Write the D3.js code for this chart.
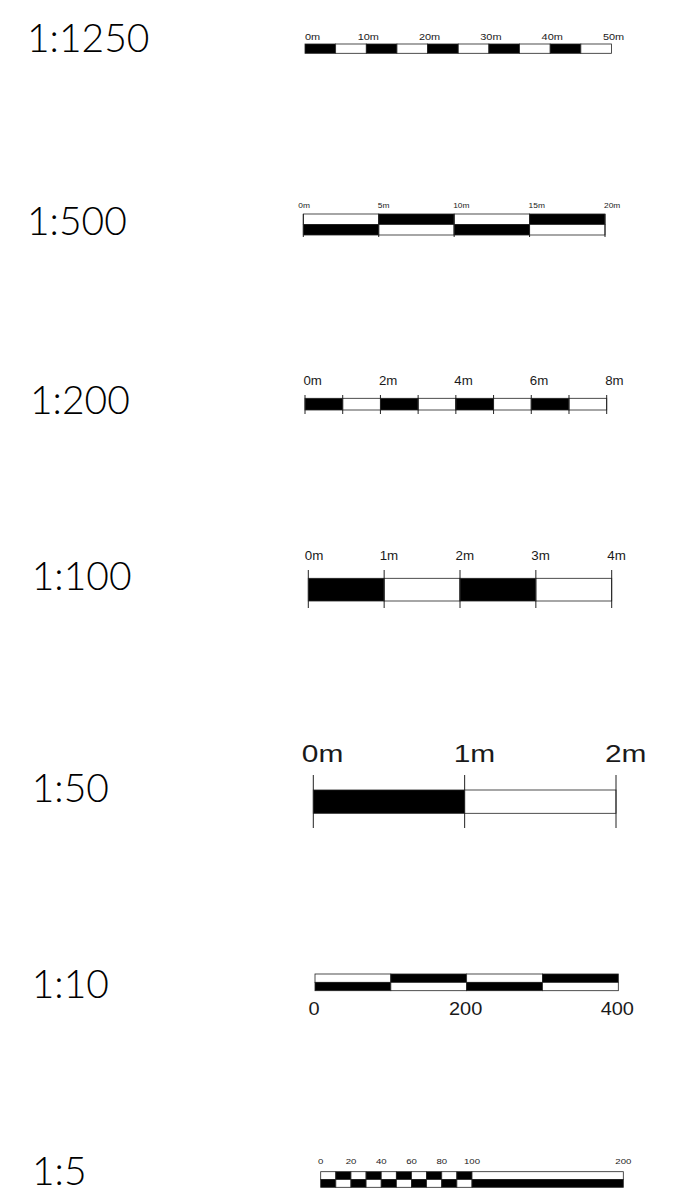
<!DOCTYPE html>
<html>
<head>
<meta charset="utf-8">
<script src="https://cdn.jsdelivr.net/npm/d3@7"></script>
<style>
  html, body { margin: 0; padding: 0; background: #fff; }
  svg { display: block; }
</style>
</head>
<body>
<script>
// ---- data ----
const ratioLabels = ["1:1250", "1:500", "1:200", "1:100", "1:50", "1:10", "1:5"];

const seg1250 = [0, 5, 10, 15, 20, 25, 30, 35, 40, 45, 50];
const lab1250 = [0, 10, 20, 30, 40, 50];

const seg500 = [0, 5, 10, 15, 20];
const lab500 = [0, 5, 10, 15, 20];

const seg200 = [0, 1, 2, 3, 4, 5, 6, 7, 8];
const lab200 = [0, 2, 4, 6, 8];

const seg100 = [0, 1, 2, 3, 4];
const lab100 = [0, 1, 2, 3, 4];

const seg50 = [0, 1, 2];
const lab50 = [0, 1, 2];

const seg10 = [0, 100, 200, 300, 400];
const lab10 = [0, 200, 400];

const seg5 = [0, 10, 20, 30, 40, 50, 60, 70, 80, 90, 100, 200];
const lab5 = [0, 20, 40, 60, 80, 100, 200];

const unitSuffix = ["m", "m", "m", "m", "m", "", ""];

// ---- layout (positions/styles only) ----
const W = 674, H = 1197;
const rows = [
  { seg: seg1250, lab: lab1250, x0: 305, x1: 611.5, top: 44, bot: 53.3, two: false, ticks: false,
    fs: 9.5, sx: 1.15, ly: 40, anchor: "middle", dx: 2, firstStart: true, firstDx: 0, labelX: 27, labelY: 51.7 },
  { seg: seg500, lab: lab500, x0: 303.3, x1: 605, top: 214, bot: 235, two: true, ticks: true, tTop: 214, tBot: 237,
    fs: 7.3, sx: 1.15, ly: 208.3, anchor: "start", dx: -1, firstStart: true, firstDx: -5, labelX: 27, labelY: 235 },
  { seg: seg200, lab: lab200, x0: 305, x1: 606.7, top: 398.3, bot: 410, two: false, ticks: true, tTop: 395, tBot: 414,
    fs: 13, sx: 1.02, ly: 385, anchor: "start", dx: -1.5, firstStart: true, firstDx: -1.5, labelX: 30, labelY: 414.3 },
  { seg: seg100, lab: lab100, x0: 308.3, x1: 611.7, top: 578.3, bot: 601, two: false, ticks: true, tTop: 570, tBot: 608,
    fs: 13, sx: 1.03, ly: 560, anchor: "start", dx: -4.5, firstStart: true, firstDx: -3.5, labelX: 31.7, labelY: 590 },
  { seg: seg50, lab: lab50, x0: 313.3, x1: 616, top: 790, bot: 813.3, two: false, ticks: true, tTop: 775, tBot: 828,
    fs: 23, sx: 1.3, ly: 761.7, anchor: "start", dx: -11, firstStart: true, firstDx: -11.5, labelX: 31.7, labelY: 801.7 },
  { seg: seg10, lab: lab10, x0: 315, x1: 618.3, top: 974, bot: 990.7, two: true, ticks: false,
    fs: 18.5, sx: 1.08, ly: 1015, anchor: "middle", dx: -1, firstStart: false, firstDx: -1, labelX: 31.7, labelY: 998.3 },
  { seg: seg5, lab: lab5, x0: 320.7, x1: 623.3, top: 1171.7, bot: 1187.3, two: true, ticks: false,
    fs: 8, sx: 1.2, ly: 1164, anchor: "middle", dx: 0, firstStart: false, firstDx: 0, labelX: 32, labelY: 1185 }
];

const svg = d3.select("body").append("svg")
  .attr("width", W).attr("height", H).attr("viewBox", `0 0 ${W} ${H}`);

const STROKE = "#222";

rows.forEach((r, ri) => {
  const g = svg.append("g");
  const maxV = r.seg[r.seg.length - 1];
  const x = d3.scaleLinear().domain([0, maxV]).range([r.x0, r.x1]);

  // ratio label
  g.append("text")
    .attr("x", r.labelX).attr("y", r.labelY)
    .attr("font-family", "Lato, 'Open Sans', sans-serif")
    .attr("font-weight", 300)
    .attr("font-size", 39)
    .attr("fill", "#000")
    .text(ratioLabels[ri]);

  const pairs = d3.pairs(r.seg).map((p, i) => ({ a: p[0], b: p[1], i }));

  if (r.two) {
    const mid = (r.top + r.bot) / 2;
    g.selectAll(null).data(pairs).join("rect")
      .attr("x", d => x(d.a)).attr("y", r.top)
      .attr("width", d => x(d.b) - x(d.a)).attr("height", mid - r.top)
      .attr("fill", d => d.i % 2 === 1 ? "#000" : "#fff")
      .attr("stroke", STROKE).attr("stroke-width", 0.8);
    g.selectAll(null).data(pairs).join("rect")
      .attr("x", d => x(d.a)).attr("y", mid)
      .attr("width", d => x(d.b) - x(d.a)).attr("height", r.bot - mid)
      .attr("fill", d => d.i % 2 === 0 ? "#000" : "#fff")
      .attr("stroke", STROKE).attr("stroke-width", 0.8);
  } else {
    g.selectAll(null).data(pairs).join("rect")
      .attr("x", d => x(d.a)).attr("y", r.top)
      .attr("width", d => x(d.b) - x(d.a)).attr("height", r.bot - r.top)
      .attr("fill", d => d.i % 2 === 0 ? "#000" : "#fff")
      .attr("stroke", STROKE).attr("stroke-width", 0.8);
  }

  if (r.ticks) {
    g.selectAll(null).data(r.seg).join("line")
      .attr("x1", d => x(d)).attr("x2", d => x(d))
      .attr("y1", r.tTop).attr("y2", r.tBot)
      .attr("stroke", STROKE).attr("stroke-width", 1);
  }

  g.selectAll(null).data(r.lab).join("text")
    .attr("transform", (d, i) => {
      const isFirst = i === 0 && r.firstStart;
      const px = x(d) + (isFirst ? r.firstDx : r.dx);
      return `translate(${px},${r.ly}) scale(${r.sx},1)`;
    })
    .attr("text-anchor", (d, i) => (i === 0 && r.firstStart) ? "start" : r.anchor)
    .attr("font-family", "'Liberation Sans', Arial, sans-serif")
    .attr("font-weight", 400)
    .attr("font-size", r.fs)
    .attr("fill", "#1a1a1a")
    .text(d => d + unitSuffix[ri]);
});
</script>
</body>
</html>
